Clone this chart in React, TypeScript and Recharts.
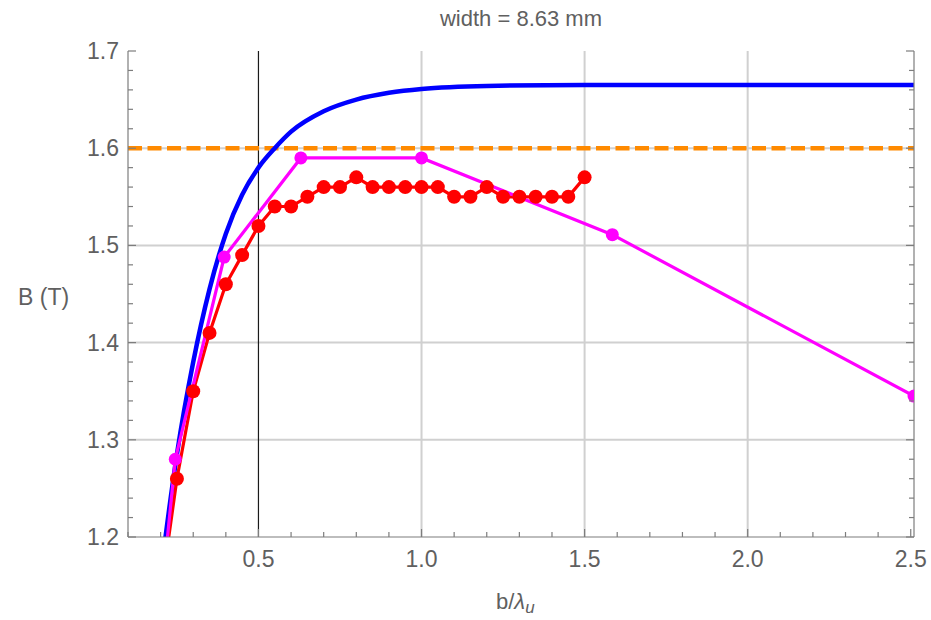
import { ComposedChart, Line, ReferenceLine, XAxis, YAxis } from "recharts";

// axis ticks (minor every 0.1 / 0.02, labels only on the major ones)
const X_TICKS = [
  0.1, 0.2, 0.3, 0.4, 0.5, 0.6, 0.7, 0.8, 0.9, 1.0, 1.1, 1.2, 1.3, 1.4, 1.5,
  1.6, 1.7, 1.8, 1.9, 2.0, 2.1, 2.2, 2.3, 2.4, 2.5,
];
const X_LABELED = [0.5, 1.0, 1.5, 2.0, 2.5];
const Y_TICKS = [
  1.2, 1.22, 1.24, 1.26, 1.28, 1.3, 1.32, 1.34, 1.36, 1.38, 1.4, 1.42, 1.44,
  1.46, 1.48, 1.5, 1.52, 1.54, 1.56, 1.58, 1.6, 1.62, 1.64, 1.66, 1.68, 1.7,
];
const Y_LABELED = [1.2, 1.3, 1.4, 1.5, 1.6, 1.7];
const X_GRID = [1.0, 1.5, 2.0];
const Y_GRID = [1.3, 1.4, 1.5, 1.6];
const MARKER_X = 0.5;
const TARGET_B = 1.6;

// analytic field (blue)
const fieldCurve = [
  { x: 0.2, y: 1.16 },
  { x: 0.215, y: 1.2 },
  { x: 0.25, y: 1.285 },
  { x: 0.3, y: 1.38 },
  { x: 0.35, y: 1.455 },
  { x: 0.4, y: 1.512 },
  { x: 0.45, y: 1.552 },
  { x: 0.5, y: 1.58 },
  { x: 0.55, y: 1.6 },
  { x: 0.6, y: 1.617 },
  { x: 0.7, y: 1.638 },
  { x: 0.8, y: 1.65 },
  { x: 0.9, y: 1.657 },
  { x: 1.0, y: 1.661 },
  { x: 1.2, y: 1.664 },
  { x: 1.5, y: 1.665 },
  { x: 2.0, y: 1.665 },
  { x: 2.51, y: 1.665 },
];

// scan (red)
const scanPoints = [
  { x: 0.2, y: 1.14 },
  { x: 0.25, y: 1.26 },
  { x: 0.3, y: 1.35 },
  { x: 0.35, y: 1.41 },
  { x: 0.4, y: 1.46 },
  { x: 0.45, y: 1.49 },
  { x: 0.5, y: 1.52 },
  { x: 0.55, y: 1.54 },
  { x: 0.6, y: 1.54 },
  { x: 0.65, y: 1.55 },
  { x: 0.7, y: 1.56 },
  { x: 0.75, y: 1.56 },
  { x: 0.8, y: 1.57 },
  { x: 0.85, y: 1.56 },
  { x: 0.9, y: 1.56 },
  { x: 0.95, y: 1.56 },
  { x: 1.0, y: 1.56 },
  { x: 1.05, y: 1.56 },
  { x: 1.1, y: 1.55 },
  { x: 1.15, y: 1.55 },
  { x: 1.2, y: 1.56 },
  { x: 1.25, y: 1.55 },
  { x: 1.3, y: 1.55 },
  { x: 1.35, y: 1.55 },
  { x: 1.4, y: 1.55 },
  { x: 1.45, y: 1.55 },
  { x: 1.5, y: 1.57 },
];

// optimised designs (magenta)
const designPoints = [
  { x: 0.2, y: 1.13 },
  { x: 0.245, y: 1.28 },
  { x: 0.395, y: 1.488 },
  { x: 0.63, y: 1.59 },
  { x: 1.0, y: 1.59 },
  { x: 1.585, y: 1.511 },
  { x: 2.51, y: 1.345 },
];

const FONT = "'Liberation Sans', Arial, Helvetica, sans-serif";
const FRAME = "#7d7d7d";
const INK = "#606060";
const GRID = "#d0d0d0";

const has = (list: number[], v: number) => list.some((t) => Math.abs(t - v) < 1e-6);

function BottomTick({ x, y, payload }: any) {
  const major = has(X_LABELED, payload.value);
  return (
    <g>
      <line x1={x} x2={x} y1={y} y2={y - (major ? 8 : 5)} stroke={FRAME} strokeWidth={1.2} />
      {major && (
        <text x={x} y={y + 30} textAnchor="middle" fill={INK} fontSize={23} fontFamily={FONT}>
          {payload.value.toFixed(1)}
        </text>
      )}
    </g>
  );
}

function TopTick({ x, y, payload }: any) {
  const major = has(X_LABELED, payload.value);
  return <line x1={x} x2={x} y1={y} y2={y + (major ? 8 : 5)} stroke={FRAME} strokeWidth={1.2} />;
}

function LeftTick({ x, y, payload }: any) {
  const major = has(Y_LABELED, payload.value);
  return (
    <g>
      <line x1={x} x2={x + (major ? 8 : 5)} y1={y} y2={y} stroke={FRAME} strokeWidth={1.2} />
      {major && (
        <text x={x - 9} y={y + 8} textAnchor="end" fill={INK} fontSize={23} fontFamily={FONT}>
          {payload.value.toFixed(1)}
        </text>
      )}
    </g>
  );
}

function RightTick({ x, y, payload }: any) {
  const major = has(Y_LABELED, payload.value);
  return <line x1={x} x2={x - (major ? 8 : 5)} y1={y} y2={y} stroke={FRAME} strokeWidth={1.2} />;
}

export default function App() {
  return (
    <div style={{ position: "absolute", left: 0, top: 0, width: 931, height: 620, background: "#fff" }}>
      <ComposedChart
        width={931}
        height={620}
        margin={{ top: 51, right: 16, bottom: 0, left: 0 }}
      >
        <XAxis
          type="number"
          dataKey="x"
          domain={[0.1, 2.51]}
          allowDataOverflow
          ticks={X_TICKS}
          interval={0}
          tickSize={0}
          tickMargin={0}
          tickLine={false}
          tick={<BottomTick />}
          height={83}
          axisLine={{ stroke: FRAME, strokeWidth: 1.2 }}
        />
        <XAxis
          xAxisId="top"
          orientation="top"
          type="number"
          dataKey="x"
          domain={[0.1, 2.51]}
          allowDataOverflow
          ticks={X_TICKS}
          interval={0}
          tickSize={0}
          tickMargin={0}
          tickLine={false}
          tick={<TopTick />}
          height={0}
          axisLine={{ stroke: FRAME, strokeWidth: 1.2 }}
        />
        <YAxis
          type="number"
          domain={[1.2, 1.7]}
          allowDataOverflow
          ticks={Y_TICKS}
          interval={0}
          tickSize={0}
          tickMargin={0}
          tickLine={false}
          tick={<LeftTick />}
          width={128}
          axisLine={{ stroke: FRAME, strokeWidth: 1.2 }}
        />
        <YAxis
          yAxisId="right"
          orientation="right"
          type="number"
          domain={[1.2, 1.7]}
          allowDataOverflow
          ticks={Y_TICKS}
          interval={0}
          tickSize={0}
          tickMargin={0}
          tickLine={false}
          tick={<RightTick />}
          width={1}
          axisLine={{ stroke: FRAME, strokeWidth: 1.2 }}
        />

        {Y_GRID.map((v) => (
          <ReferenceLine key={`gy${v}`} y={v} stroke={GRID} strokeWidth={2} />
        ))}
        {X_GRID.map((v) => (
          <ReferenceLine key={`gx${v}`} x={v} stroke={GRID} strokeWidth={2} />
        ))}
        <ReferenceLine x={MARKER_X} stroke="#1a1a1a" strokeWidth={1.2} />
        <ReferenceLine y={TARGET_B} stroke="#ff8a00" strokeWidth={4.5} strokeDasharray="14 5.5" />

        <Line
          data={fieldCurve}
          dataKey="y"
          type="monotone"
          stroke="#0000ff"
          strokeWidth={4.5}
          dot={false}
          isAnimationActive={false}
        />
        <Line
          data={scanPoints}
          dataKey="y"
          type="linear"
          stroke="#ff0000"
          strokeWidth={3.2}
          dot={{ r: 7, fill: "#ff0000", stroke: "none" }}
          isAnimationActive={false}
        />
        <Line
          data={designPoints}
          dataKey="y"
          type="linear"
          stroke="#ff00ff"
          strokeWidth={3.2}
          dot={{ r: 6.5, fill: "#ff00ff", stroke: "none" }}
          isAnimationActive={false}
        />
      </ComposedChart>

      <svg
        width={931}
        height={620}
        style={{ position: "absolute", left: 0, top: 0, pointerEvents: "none" }}
        fontFamily={FONT}
        fill={INK}
      >
        <text x={521} y={26} textAnchor="middle" fontSize={22}>
          width = 8.63 mm
        </text>
        <text x={18} y={305} fontSize={23}>
          B (T)
        </text>
        <text x={496} y={609} fontSize={22}>
          b/<tspan fontStyle="italic">λ</tspan>
          <tspan fontStyle="italic" fontSize={17} dy={4}>
            u
          </tspan>
        </text>
      </svg>
    </div>
  );
}
